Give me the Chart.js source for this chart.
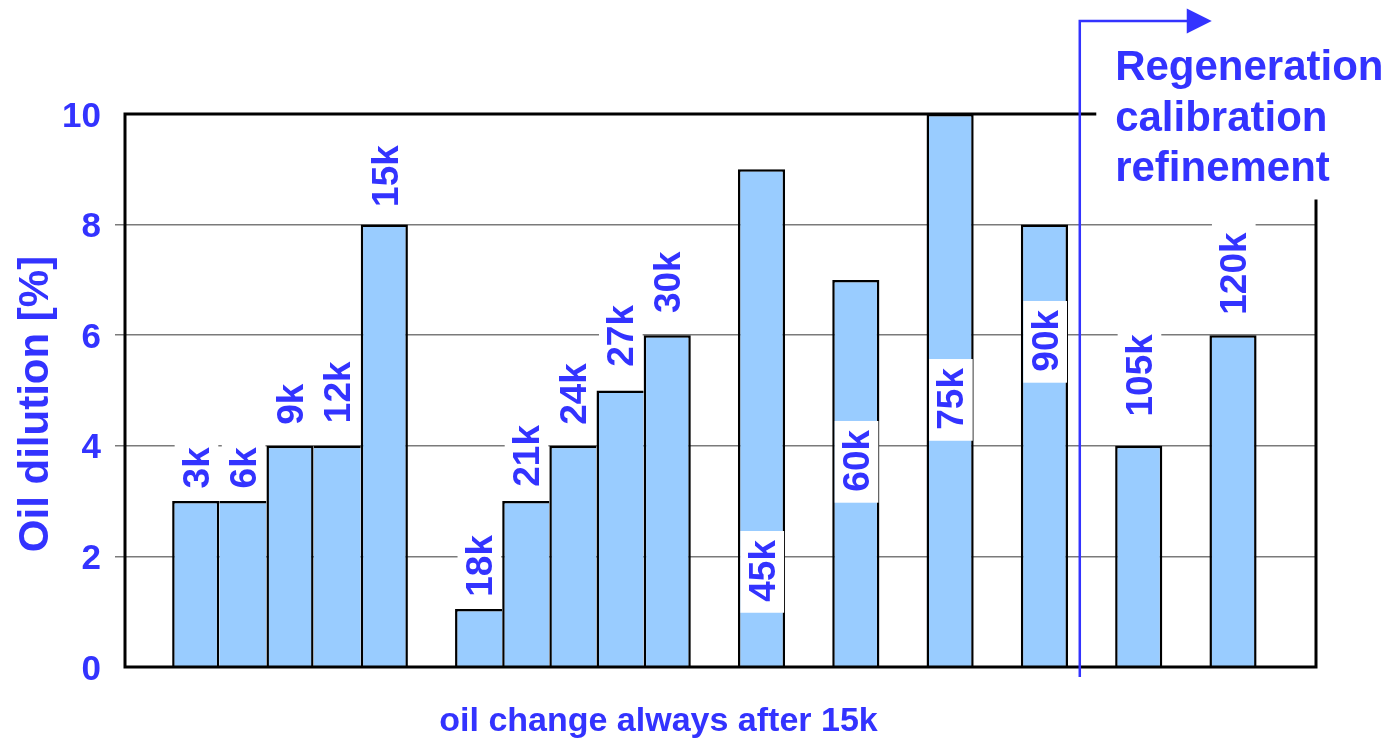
<!DOCTYPE html>
<html>
<head>
<meta charset="utf-8">
<script src="https://cdn.jsdelivr.net/npm/chart.js@4.4.1/dist/chart.umd.min.js"></script>
<style>
  html, body { margin: 0; padding: 0; background: #ffffff; }
  canvas { display: block; }
</style>
</head>
<body>
<canvas id="chart" width="1389" height="740"></canvas>
<script>
// Mileage slots along the x axis; empty strings are the gaps between groups
const categories = ['', '3k', '6k', '9k', '12k', '15k', '', '18k', '21k', '24k', '27k', '30k', '',
  '45k', '', '60k', '', '75k', '', '90k', '', '105k', '', '120k', ''];

// Oil dilution [%] per slot (null = no bar)
const dilution = [null, 3, 3, 4, 4, 8, null, 1.05, 3, 4, 5, 6, null,
  9, null, 7, null, 10, null, 8, null, 4, null, 6, null];

// Where each mileage label starts, in axis units (labels read upwards)
const labelAnchors = [null, 3.23, 3.23, 4.38, 4.41, 8.32, null, 1.27, 3.26, 4.38, 5.43, 6.40, null,
  1.18, null, 3.17, null, 4.29, null, 5.34, null, 4.53, null, 6.37, null];

const yTicks = [0, 2, 4, 6, 8, 10];
const yTitle = 'Oil dilution [%]';
const xTitle = 'oil change always after 15k';
const noteLines = ['Regeneration', 'calibration', 'refinement'];

const BLUE = '#3333ff';
const BAR_FILL = '#99ccff';
const FONT = '"Liberation Sans", Arial, Helvetica, sans-serif';
const EDGE = 2.5;

Chart.defaults.font.family = FONT;

// One slot per category, bar centred in its slot
const points = categories.map((c, i) => ({ x: i + 0.5, y: dilution[i] }));

// Shared edges between neighbouring bars are drawn once, by the taller bar
function edgeWidths(ctx) {
  const i = ctx.dataIndex;
  const cur = dilution[i];
  const prev = i > 0 ? dilution[i - 1] : null;
  const next = i < dilution.length - 1 ? dilution[i + 1] : null;
  return {
    top: EDGE,
    bottom: 0,
    left: (prev == null || cur > prev) ? EDGE : 0,
    right: (next == null || cur >= next) ? EDGE : 0
  };
}

const overlay = {
  id: 'overlay',
  afterDatasetsDraw(chart) {
    const { ctx, chartArea: a, scales: { x, y } } = chart;
    const meta = chart.getDatasetMeta(0);
    const arrowX = x.getPixelForValue(20.25);
    const noteX = x.getPixelForValue(21);
    const noteBase = [80, 130.5, 181];

    ctx.save();

    // Frame: full left and bottom, top stops before the note, right starts below it
    ctx.strokeStyle = '#000000';
    ctx.lineWidth = 3;
    ctx.lineCap = 'square';
    ctx.beginPath();
    ctx.moveTo(arrowX + 15, a.top);
    ctx.lineTo(a.left, a.top);
    ctx.lineTo(a.left, a.bottom);
    ctx.lineTo(a.right, a.bottom);
    ctx.lineTo(a.right, noteBase[2] + 20);
    ctx.stroke();

    // Mileage labels on white plates, reading upwards
    const fs = 37;
    ctx.font = `bold ${fs}px ${FONT}`;
    const capH = fs * 0.716;
    meta.data.forEach((bar, i) => {
      if (dilution[i] == null || labelAnchors[i] == null) return;
      const text = categories[i];
      const w = ctx.measureText(text).width;
      const bottom = y.getPixelForValue(labelAnchors[i]);
      const top = bottom - w;
      const left = bar.x - bar.width / 2 + EDGE;
      const right = bar.x + bar.width / 2 - 1;
      ctx.fillStyle = '#ffffff';
      ctx.fillRect(left, top - 9, right - left, w + 20);
      ctx.save();
      ctx.translate(bar.x + capH / 2, bottom);
      ctx.rotate(-Math.PI / 2);
      ctx.fillStyle = BLUE;
      ctx.textAlign = 'left';
      ctx.textBaseline = 'alphabetic';
      ctx.fillText(text, 0, 0);
      ctx.restore();
    });

    // Note in the top right corner
    ctx.fillStyle = BLUE;
    ctx.font = `bold 42px ${FONT}`;
    ctx.textAlign = 'left';
    ctx.textBaseline = 'alphabetic';
    noteLines.forEach((line, k) => ctx.fillText(line, noteX, noteBase[k]));

    // Bent arrow marking where the note applies
    const arrowY = 21;
    ctx.strokeStyle = BLUE;
    ctx.lineWidth = 2.5;
    ctx.lineCap = 'butt';
    ctx.beginPath();
    ctx.moveTo(arrowX, a.bottom + 10);
    ctx.lineTo(arrowX, arrowY);
    ctx.lineTo(arrowX + 110, arrowY);
    ctx.stroke();
    ctx.beginPath();
    ctx.moveTo(arrowX + 132, arrowY);
    ctx.lineTo(arrowX + 107, arrowY - 12.5);
    ctx.lineTo(arrowX + 107, arrowY + 12.5);
    ctx.closePath();
    ctx.fill();

    // Axis titles
    ctx.font = `bold 42px ${FONT}`;
    ctx.textAlign = 'center';
    ctx.save();
    ctx.translate(47.5, 404);
    ctx.rotate(-Math.PI / 2);
    ctx.fillText(yTitle, 0, 0);
    ctx.restore();

    ctx.font = `bold 34px ${FONT}`;
    ctx.fillText(xTitle, 658.5, 731);

    ctx.restore();
  }
};

new Chart(document.getElementById('chart'), {
  type: 'bar',
  data: {
    datasets: [{
      data: points,
      backgroundColor: BAR_FILL,
      borderColor: '#000000',
      borderWidth: edgeWidths,
      borderSkipped: false,
      inflateAmount: 0,
      categoryPercentage: 1,
      barPercentage: 1
    }]
  },
  options: {
    responsive: false,
    animation: false,
    events: [],
    layout: { padding: { left: 0, top: 114, right: 73, bottom: 73 } },
    plugins: {
      legend: { display: false },
      tooltip: { enabled: false },
      title: { display: false }
    },
    scales: {
      x: {
        type: 'linear',
        display: false,
        offset: false,
        min: 0,
        max: 25.26,
        ticks: { stepSize: 1 }
      },
      y: {
        min: 0,
        max: 10,
        afterFit: s => { s.width = 125; },
        afterBuildTicks: s => { s.ticks = yTicks.map(v => ({ value: v })); },
        border: { display: false },
        grid: {
          color: c => (c.tick && (c.tick.value === 0 || c.tick.value === 10)) ? 'rgba(0,0,0,0)' : '#7a7a7a',
          lineWidth: 1.5,
          drawTicks: true,
          tickLength: 10
        },
        ticks: {
          color: BLUE,
          font: { size: 35, weight: 'bold' },
          padding: 14,
          labelOffset: 3
        }
      }
    }
  },
  plugins: [overlay]
});
</script>
</body>
</html>
